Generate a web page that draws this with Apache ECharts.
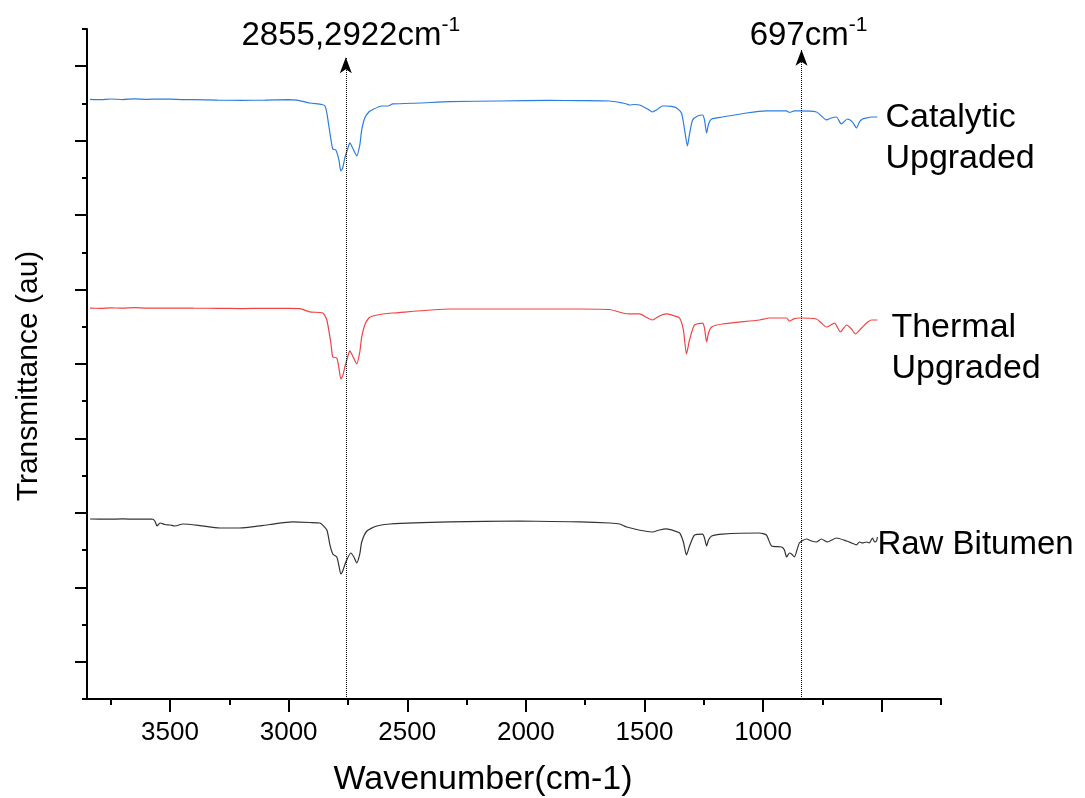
<!DOCTYPE html>
<html lang="en" style="height: 100%">
<head>
  <meta charset="utf-8">
</head>
<body style="height: 100%; margin: 0; background: #fff">
<div id="container" style="height: 100%"></div>

<script type="text/javascript" src="https://cdn.jsdelivr.net/npm/echarts@6/dist/echarts.min.js"></script>
<script type="text/javascript">
  // FTIR spectra, [wavenumber, transmittance(au)]
  var catalytic = [
    [3837, 80.55], [3790, 80.5], [3750, 80.6], [3700, 80.52], [3650, 80.62], [3600, 80.55], [3550, 80.6],
    [3500, 80.58], [3450, 80.52], [3400, 80.5], [3300, 80.45], [3200, 80.42], [3100, 80.45], [3000, 80.5],
    [2965, 80.45], [2911, 80.06], [2860, 79.86], [2847, 79.66], [2839, 78.72], [2826, 76.03], [2814, 73.89],
    [2801, 73.75], [2788, 72.4], [2780, 70.93], [2772, 71.33], [2763, 72.68], [2750, 74.02], [2742, 74.69],
    [2730, 74.02], [2713, 72.95], [2700, 74.42], [2692, 76.44], [2679, 78.05], [2662, 78.85], [2649, 79.12],
    [2607, 79.66], [2582, 79.66], [2561, 79.93], [2447, 80.06], [2321, 80.24], [2110, 80.33], [1900, 80.4],
    [1773, 80.38], [1647, 80.33], [1592, 80.06], [1575, 79.93], [1563, 79.79], [1542, 79.86], [1520, 79.79],
    [1487, 79.26], [1466, 78.85], [1449, 79.12], [1424, 79.66], [1407, 79.66], [1386, 79.6], [1365, 79.39],
    [1344, 78.72], [1332, 76.7], [1319, 74.29], [1310, 75.9], [1297, 77.78], [1276, 78.31], [1255, 78.45],
    [1247, 77.78], [1238, 76.03], [1230, 77.24], [1217, 77.91], [1171, 78.18], [1070, 78.72], [986, 78.99],
    [901, 78.99], [889, 78.79], [868, 78.99], [847, 78.99], [775, 78.85], [754, 78.31], [733, 77.78],
    [712, 78.05], [691, 78.18], [670, 77.24], [644, 77.91], [623, 77.5], [606, 76.7], [594, 77.5],
    [581, 77.91], [564, 78.05], [543, 78.18], [518, 78.18]
  ];
  var thermal = [
    [3837, 52.5], [3790, 52.48], [3750, 52.55], [3700, 52.5], [3650, 52.56], [3600, 52.5], [3500, 52.52],
    [3400, 52.5], [3300, 52.48], [3200, 52.45], [3100, 52.47], [3000, 52.48], [2953, 52.45], [2911, 51.99],
    [2856, 51.85], [2839, 50.91], [2822, 47.82], [2814, 45.94], [2797, 45.81], [2788, 44.46], [2780, 42.99],
    [2772, 43.4], [2763, 44.6], [2750, 46.08], [2742, 46.75], [2730, 46.08], [2713, 45.0], [2700, 46.62],
    [2692, 48.63], [2679, 50.24], [2662, 51.18], [2645, 51.45], [2603, 51.72], [2561, 51.85], [2321, 52.39],
    [1773, 52.39], [1647, 52.32], [1592, 51.85], [1563, 51.72], [1520, 51.72], [1487, 51.18], [1466, 50.91],
    [1437, 51.45], [1407, 51.72], [1373, 51.45], [1352, 51.18], [1336, 49.57], [1323, 46.35], [1310, 48.23],
    [1289, 50.24], [1255, 50.5], [1247, 49.83], [1238, 47.96], [1230, 49.16], [1217, 49.97], [1171, 50.37],
    [1015, 50.91], [973, 51.18], [901, 51.18], [889, 50.77], [868, 51.1], [847, 51.18], [775, 51.04],
    [754, 50.5], [733, 49.97], [699, 50.5], [674, 49.3], [648, 50.24], [627, 49.7], [611, 49.03],
    [585, 49.83], [564, 50.5], [543, 50.91], [518, 50.91]
  ];
  var raw = [
    [3837, 24.18], [3760, 24.15], [3700, 24.2], [3640, 24.15], [3576, 24.18], [3564, 23.91], [3555, 23.24],
    [3542, 23.64], [3521, 23.44], [3500, 23.37], [3479, 23.24], [3446, 23.51], [3374, 23.3], [3290, 22.97],
    [3218, 22.97], [3163, 23.1], [3079, 23.44], [2982, 23.78], [2911, 23.71], [2868, 23.64], [2839, 22.7],
    [2826, 20.69], [2814, 19.48], [2797, 19.08], [2788, 17.87], [2780, 16.79], [2772, 17.19], [2759, 18.4],
    [2738, 19.61], [2725, 19.08], [2713, 18.27], [2700, 19.48], [2692, 21.09], [2670, 22.57], [2628, 23.24],
    [2574, 23.51], [2321, 23.78], [2026, 23.91], [1773, 23.78], [1647, 23.64], [1605, 23.51], [1575, 23.1],
    [1542, 22.84], [1499, 22.57], [1466, 22.43], [1437, 22.7], [1407, 22.84], [1373, 22.57], [1352, 22.3],
    [1336, 21.09], [1323, 19.34], [1310, 20.55], [1289, 22.03], [1255, 22.16], [1247, 21.63], [1238, 20.55],
    [1230, 21.36], [1217, 21.9], [1171, 22.16], [1015, 22.3], [986, 22.03], [964, 20.55], [922, 20.42],
    [910, 20.02], [901, 19.08], [889, 19.61], [880, 19.48], [868, 19.08], [847, 20.96], [817, 21.49],
    [796, 21.22], [775, 21.09], [754, 21.49], [729, 21.09], [691, 21.63], [648, 21.22], [627, 20.96],
    [606, 20.69], [594, 21.09], [581, 20.96], [564, 21.09], [552, 20.96], [539, 21.63], [530, 21.09],
    [522, 21.22], [518, 21.76]
  ];

  var seriesNames = ['Catalytic\nUpgraded', 'Thermal\nUpgraded', 'Raw Bitumen'];

  // axis ticks
  var xMajor = [500, 1000, 1500, 2000, 2500, 3000, 3500];
  var xLabels = [1000, 1500, 2000, 2500, 3000, 3500];
  var xMinor = [250, 750, 1250, 1750, 2250, 2750, 3250, 3750];
  var yMajor = [5, 15, 25, 35, 45, 55, 65, 75, 85];
  var yMinor = [0, 10, 20, 30, 40, 50, 60, 70, 80, 90];

  // marked peaks: where the dotted arrow stands, where its tip is, its label
  var peakPos = [2759, 838];
  var peakTop = [86.2, 87.2];
  var peakText = ['2855,2922cm', '697cm'];

  var font = '"Liberation Sans", Arial, sans-serif';

  var dom = document.getElementById('container');
  var myChart = echarts.init(dom, null, { renderer: 'canvas' });

  var axisLine = { show: true, lineStyle: { color: '#000', width: 2 } };
  var tickStyle = { color: '#000', width: 2 };

  var option = {
    animation: false,
    backgroundColor: '#fff',
    grid: { left: 87, right: 144, top: 29, bottom: 99, outerBoundsMode: 'none' },
    xAxis: [
      {
        type: 'value', min: 250, max: 3850, inverse: true, position: 'bottom',
        axisLine: axisLine,
        axisTick: { customValues: xMajor, length: 13, lineStyle: tickStyle },
        axisLabel: {
          customValues: xLabels, color: '#000', fontSize: 26, fontFamily: font, margin: 21,
          formatter: function (v) { return String(v); }
        },
        splitLine: { show: false },
        name: 'Wavenumber(cm-1)', nameLocation: 'middle', nameGap: 64, nameMoveOverlap: false,
        nameTextStyle: { color: '#000', fontSize: 34, fontFamily: font, padding: [0, 62, 0, 0] }
      },
      {
        type: 'value', min: 250, max: 3850, inverse: true, position: 'bottom',
        axisLine: { show: false },
        axisTick: { customValues: xMinor, length: 6, lineStyle: tickStyle },
        axisLabel: { show: false },
        splitLine: { show: false }
      }
    ],
    yAxis: [
      {
        type: 'value', min: 0, max: 90, position: 'left',
        axisLine: axisLine,
        axisTick: { customValues: yMajor, length: 12, lineStyle: tickStyle },
        axisLabel: { show: false },
        splitLine: { show: false },
        name: 'Transmittance (au)', nameLocation: 'middle', nameGap: 43, nameMoveOverlap: false,
        nameTextStyle: { color: '#000', fontSize: 30, fontFamily: font, padding: [0, 24, 0, 0] }
      },
      {
        type: 'value', min: 0, max: 90, position: 'left',
        axisLine: { show: false },
        axisTick: { customValues: yMinor, length: 5, lineStyle: tickStyle },
        axisLabel: { show: false },
        splitLine: { show: false }
      }
    ],
    series: [
      {
        name: seriesNames[0], type: 'line', data: catalytic, showSymbol: false, smooth: 0.2,
        lineStyle: { color: '#2a7de1', width: 1.2 },
        endLabel: {
          show: true, formatter: seriesNames[0], align: 'left', distance: 0, offset: [0, 21],
          color: '#000', fontSize: 34, lineHeight: 41, fontFamily: font, padding: [0, 0, 0, 8]
        },
        markLine: {
          silent: true, animation: false,
          symbol: ['none', 'arrow'], symbolSize: [9, 16],
          lineStyle: { color: '#000', type: 'dotted', width: 1 },
          label: {
            show: true, position: 'end', color: '#000',
            rich: {
              a: { fontSize: 33, fontFamily: font, color: '#000', lineHeight: 38, verticalAlign: 'bottom' },
              b: { fontSize: 21, fontFamily: font, color: '#000', lineHeight: 21, verticalAlign: 'top' }
            }
          },
          data: [
            [{ coord: [peakPos[0], 0], label: { formatter: '{a|' + peakText[0] + '}{b|-1}', distance: 5, padding: [0, 0, 0, 10] } },
              { coord: [peakPos[0], peakTop[0]] }],
            [{ coord: [peakPos[1], 0], label: { formatter: '{a|' + peakText[1] + '}{b|-1}', distance: -3, padding: [0, 0, 0, 14] } },
              { coord: [peakPos[1], peakTop[1]] }]
          ]
        }
      },
      {
        name: seriesNames[1], type: 'line', data: thermal, showSymbol: false, smooth: 0.2,
        lineStyle: { color: '#f04444', width: 1.2 },
        endLabel: {
          show: true, formatter: seriesNames[1], align: 'left', distance: 0, offset: [0, 28],
          color: '#000', fontSize: 34, lineHeight: 41, fontFamily: font, padding: [0, 0, 0, 14]
        }
      },
      {
        name: seriesNames[2], type: 'line', data: raw, showSymbol: false, smooth: 0.2,
        lineStyle: { color: '#333', width: 1.2 },
        endLabel: {
          show: true, formatter: seriesNames[2], align: 'left', distance: 0, offset: [0, 8],
          color: '#000', fontSize: 33, fontFamily: font
        }
      }
    ]
  };

  myChart.setOption(option);

  window.addEventListener('resize', myChart.resize);
</script>
</body>
</html>
